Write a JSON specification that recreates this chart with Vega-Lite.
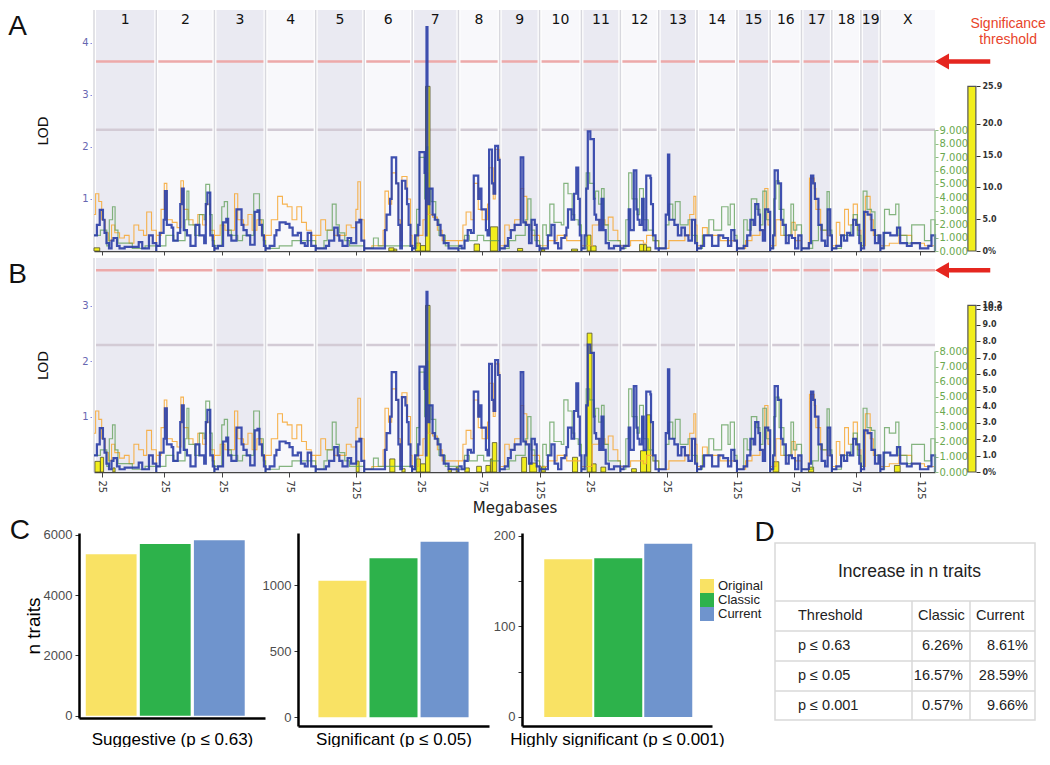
{
"$schema": "https://vega.github.io/schema/vega-lite/v6.json",
"background": "white",
"padding": {"left": 8, "top": 8, "right": 0, "bottom": 0},
"config": {"view": {"stroke": null}, "axis": {"grid": false}, "font": "Liberation Sans", "title": {"fontWeight": "normal"}},
"spacing": 0,
"datasets": {
"chroms": [
{"c":"1","s":0,"e":195,"m":97.5,"k":1},{"c":"2","s":195,"e":377,"m":286,"k":0},{"c":"3","s":377,"e":537,"m":457,"k":1},{"c":"4","s":537,"e":694,"m":615.5,"k":0},{"c":"5","s":694,"e":846,"m":770,"k":1},{"c":"6","s":846,"e":996,"m":921,"k":0},{"c":"7","s":996,"e":1141,"m":1068.5,"k":1},{"c":"8","s":1141,"e":1270,"m":1205.5,"k":0},{"c":"9","s":1270,"e":1395,"m":1332.5,"k":1},{"c":"10","s":1395,"e":1526,"m":1460.5,"k":0},{"c":"11","s":1526,"e":1648,"m":1587,"k":1},{"c":"12","s":1648,"e":1768,"m":1708,"k":0},{"c":"13","s":1768,"e":1888,"m":1828,"k":1},{"c":"14","s":1888,"e":2013,"m":1950.5,"k":0},{"c":"15","s":2013,"e":2117,"m":2065,"k":1},{"c":"16","s":2117,"e":2215,"m":2166,"k":0},{"c":"17","s":2215,"e":2310,"m":2262.5,"k":1},{"c":"18","s":2310,"e":2401,"m":2355.5,"k":0},{"c":"19","s":2401,"e":2462,"m":2431.5,"k":1},{"c":"X","s":2462,"e":2633,"m":2547.5,"k":0}
],
"lines": [
{"s":"o","c":"1","p":"AB","x":[0,5,15,24,35,45,55,65,80,95,110,125,140,155,165,180,195],"y":[0.7,1.1,0.95,0.6,0.35,0.2,0.5,0.35,0.25,0.3,0.15,0.5,0.4,0.3,0.75,0.4,0]},
{"s":"g","c":"1","p":"AB","x":[0,20,40,48,58,66,75,95,120,160,195],"y":[0.3,0.4,0.1,0.6,0.85,0.4,0.15,0.15,0.05,0.1,0]},
{"s":"b","c":"1","p":"AB","x":[0,9,18,28,33,39,47,55,61,72,80,96,140,151,162,172,184,195],"y":[0.3,0.5,0.79,0.6,0.35,0.15,0.05,0.2,0.25,0.1,0.05,0.08,0.17,0.05,0.05,0.3,0.15,0]},
{"s":"b","c":"2","p":"AB","x":[195,206,218,222,228,243,248,262,270,275,281,291,302,318,330,345,350,355,364,372,377],"y":[0.1,0.35,0.6,1.15,0.5,0.45,0.2,0.35,0.9,1.2,0.4,0.3,0.1,0.5,0.3,0.15,0.9,1.12,0.3,0.1,0]},
{"s":"o","c":"2","p":"AB","x":[195,210,220,228,245,260,272,280,295,310,325,340,352,364,377],"y":[0.3,0.8,1.3,0.6,0.55,0.45,1.35,0.8,0.6,0.5,0.7,0.5,0.9,0.4,0]},
{"s":"g","c":"2","p":"AB","x":[195,225,250,285,291,297,315,330,345,350,362,370,377],"y":[0.1,0.3,0.2,0.6,1.15,0.5,0.3,0.7,0.6,1.28,0.7,0.2,0]},
{"s":"b","c":"3","p":"AB","x":[377,388,404,414,420,430,446,462,468,478,489,503,512,518,526,532,537],"y":[0.05,0.1,0.55,0.62,0.3,0.2,0.8,0.5,0.4,0.3,0.12,0.75,0.78,0.5,0.3,0.1,0]},
{"s":"g","c":"3","p":"AB","x":[377,400,408,418,430,450,465,500,518,530,537],"y":[0.1,0.85,0.95,0.4,0.3,0.2,0.3,1.1,0.6,0.2,0]},
{"s":"o","c":"3","p":"AB","x":[377,395,410,440,450,468,482,495,510,525,537],"y":[0.3,0.5,0.4,1.1,0.6,0.5,0.7,0.4,0.6,0.3,0]},
{"s":"b","c":"4","p":"AB","x":[537,550,565,571,581,600,612,622,638,648,660,669,680,694],"y":[0.05,0.1,0.3,0.4,0.55,0.52,0.45,0.3,0.35,0.15,0.1,0.35,0.1,0]},
{"s":"o","c":"4","p":"AB","x":[537,555,575,590,605,620,635,650,665,680,694],"y":[0.3,0.6,1.05,0.9,0.85,0.6,0.85,0.55,0.4,0.3,0]},
{"s":"g","c":"4","p":"AB","x":[537,580,620,694],"y":[0.05,0.1,0.2,0]},
{"s":"b","c":"5","p":"AB","x":[694,705,726,736,752,763,768,778,794,805,821,831,837,846],"y":[0.05,0.05,0.1,0.2,0.45,0.3,0.2,0.1,0.25,0.15,0.55,0.6,0.2,0]},
{"s":"g","c":"5","p":"AB","x":[694,720,730,746,758,768,785,800,846],"y":[0.05,0.2,0.4,0.9,0.5,0.35,0.2,0.1,0]},
{"s":"o","c":"5","p":"AB","x":[694,710,725,750,790,805,820,826,834,846],"y":[0.3,0.6,0.4,0.3,0.5,0.45,0.8,1.33,0.6,0]},
{"s":"b","c":"6","p":"AB","x":[846,895,911,916,927,932,946,953,959,964,975,980,985,991,996],"y":[0.05,0.05,0.4,0.7,1.0,1.8,1.3,0.5,0.05,1.35,1.2,0.9,0.5,0.1,0]},
{"s":"o","c":"6","p":"AB","x":[846,870,905,911,922,932,946,953,959,964,980,991,996],"y":[0.05,0.1,0.4,1.15,0.9,1.5,1.3,0.6,0.2,1.43,1.0,0.3,0]},
{"s":"g","c":"6","p":"AB","x":[846,875,890,996],"y":[0.05,0.25,0.1,0]},
{"s":"b","c":"7","p":"A","x":[996,1005,1015,1019,1035,1039,1041,1044,1050,1060,1067,1076,1085,1095,1110,1141],"y":[0.05,0.3,0.5,1.9,1.5,0.3,4.3,0.9,1.2,0.7,0.6,0.5,0.3,0.15,0.05,0]},
{"s":"b","c":"7","p":"B","x":[996,1005,1015,1019,1035,1039,1041,1044,1050,1060,1067,1076,1085,1095,1110,1141],"y":[0.05,0.3,0.5,1.9,1.5,0.3,3.25,0.9,1.2,0.7,0.6,0.5,0.3,0.15,0.05,0]},
{"s":"g","c":"7","p":"AB","x":[996,1010,1019,1035,1041,1045,1055,1070,1080,1100,1141],"y":[0.05,0.8,1.8,1.0,2.0,1.2,0.95,0.6,0.3,0.1,0]},
{"s":"o","c":"7","p":"AB","x":[996,1015,1030,1041,1045,1060,1075,1090,1141],"y":[0.1,0.3,0.6,1.5,0.7,0.65,0.4,0.2,0]},
{"s":"b","c":"8","p":"AB","x":[1141,1151,1160,1170,1180,1189,1203,1208,1213,1227,1232,1237,1246,1251,1256,1265,1270],"y":[0.1,0.05,0.2,0.4,0.35,1.45,1.0,1.2,0.8,0.4,0.3,1.95,1.3,1.1,2.02,1.75,0]},
{"s":"o","c":"8","p":"AB","x":[1141,1155,1165,1180,1189,1203,1215,1232,1237,1250,1256,1268,1270],"y":[0.2,0.5,0.75,0.6,1.3,0.8,0.6,0.9,1.6,1.0,1.95,1.8,0]},
{"s":"g","c":"8","p":"AB","x":[1141,1160,1175,1200,1220,1270],"y":[0.05,0.3,0.2,0.3,0.2,0]},
{"s":"b","c":"9","p":"AB","x":[1270,1286,1296,1305,1317,1336,1344,1352,1362,1370,1380,1386,1395],"y":[0.05,0.1,0.25,0.4,0.5,1.8,0.55,0.5,0.15,0.6,0.5,0.1,0]},
{"s":"o","c":"9","p":"AB","x":[1270,1286,1300,1317,1336,1345,1355,1370,1395],"y":[0.1,0.5,0.4,0.6,1.2,1.05,0.5,0.3,0]},
{"s":"g","c":"9","p":"AB","x":[1270,1300,1320,1350,1358,1368,1380,1395],"y":[0.05,0.2,0.3,0.6,1.0,0.4,0.2,0]},
{"s":"b","c":"10","p":"AB","x":[1395,1405,1421,1432,1442,1453,1463,1474,1479,1484,1495,1503,1510,1516,1521,1526],"y":[0.05,0.05,0.3,0.5,0.15,0.05,0.25,0.3,0.45,0.8,0.6,1.1,1.6,1.0,0.3,0]},
{"s":"g","c":"10","p":"AB","x":[1395,1405,1416,1427,1440,1463,1471,1484,1497,1505,1516,1526],"y":[0.05,0.5,0.3,0.9,0.55,0.5,1.3,1.1,0.7,0.6,0.5,0]},
{"s":"o","c":"10","p":"AB","x":[1395,1420,1450,1480,1526],"y":[0.1,0.2,0.3,0.2,0]},
{"s":"b","c":"11","p":"AB","x":[1526,1536,1541,1546,1554,1565,1567,1572,1582,1589,1595,1602,1612,1628,1648],"y":[0.05,0.3,1.2,2.3,2.15,1.0,0.7,0.6,0.4,1.0,0.4,0.15,0.05,0.1,0]},
{"s":"g","c":"11","p":"AB","x":[1526,1541,1552,1565,1570,1580,1589,1597,1610,1648],"y":[0.05,1.5,1.3,1.0,1.15,0.9,1.2,0.5,0.2,0]},
{"s":"o","c":"11","p":"AB","x":[1526,1560,1580,1600,1610,1625,1640,1648],"y":[0.1,0.5,0.6,0.5,0.65,0.4,0.2,0]},
{"s":"b","c":"12","p":"AB","x":[1648,1658,1674,1679,1690,1698,1702,1708,1716,1721,1729,1742,1744,1750,1758,1768],"y":[0.05,0.1,0.8,0.4,1.55,0.8,0.6,0.5,1.0,0.4,1.45,1.4,0.9,0.3,0.05,0]},
{"s":"g","c":"12","p":"AB","x":[1648,1665,1674,1684,1700,1708,1720,1735,1750,1768],"y":[0.05,0.6,1.5,1.0,0.7,1.2,0.6,0.4,0.2,0]},
{"s":"o","c":"12","p":"AB","x":[1648,1680,1720,1730,1750,1768],"y":[0.1,0.2,0.15,0.3,0.2,0]},
{"s":"b","c":"13","p":"AB","x":[1768,1779,1790,1797,1801,1806,1817,1828,1839,1850,1861,1872,1882,1888],"y":[0.05,0.05,0.7,1.85,0.6,0.6,0.5,0.3,0.45,0.3,0.2,0.6,0.15,0]},
{"s":"g","c":"13","p":"AB","x":[1768,1790,1800,1812,1820,1835,1860,1872,1888],"y":[0.05,0.5,0.9,0.6,0.95,0.5,0.6,0.3,0]},
{"s":"o","c":"13","p":"AB","x":[1768,1800,1850,1865,1878,1884,1888],"y":[0.05,0.2,0.3,0.7,1.05,0.5,0]},
{"s":"b","c":"14","p":"AB","x":[1888,1900,1910,1925,1935,1955,1970,1985,1995,2005,2013],"y":[0.05,0.1,0.3,0.3,0.1,0.3,0.25,0.1,0.4,0.2,0]},
{"s":"g","c":"14","p":"AB","x":[1888,1905,1925,1940,1965,1985,1992,2005,2013],"y":[0.05,0.3,0.6,0.4,0.85,0.5,0.9,0.3,0]},
{"s":"o","c":"14","p":"AB","x":[1888,1905,1920,1940,1960,2013],"y":[0.1,0.45,0.3,0.3,0.2,0]},
{"s":"b","c":"15","p":"AB","x":[2013,2024,2034,2045,2055,2065,2070,2080,2085,2094,2101,2111,2117],"y":[0.05,0.05,0.1,0.3,0.6,0.5,0.9,0.7,0.4,0.2,0.8,0.75,0]},
{"s":"g","c":"15","p":"AB","x":[2013,2034,2045,2058,2075,2085,2094,2105,2117],"y":[0.05,0.6,0.4,1.0,0.8,0.5,1.15,0.6,0]},
{"s":"o","c":"15","p":"AB","x":[2013,2040,2060,2085,2100,2110,2117],"y":[0.05,0.2,0.3,0.4,1.2,0.5,0]},
{"s":"b","c":"16","p":"AB","x":[2117,2126,2131,2141,2151,2156,2166,2175,2185,2195,2205,2215],"y":[0.05,0.3,1.55,1.3,0.6,0.5,0.15,0.3,0.25,0.05,0.3,0]},
{"s":"g","c":"16","p":"AB","x":[2117,2128,2135,2145,2160,2182,2190,2200,2215],"y":[0.05,1.0,1.35,0.8,0.3,0.9,0.4,0.5,0]},
{"s":"o","c":"16","p":"AB","x":[2117,2135,2150,2165,2185,2195,2215],"y":[0.1,0.6,0.3,0.3,0.55,0.2,0]},
{"s":"b","c":"17","p":"AB","x":[2215,2226,2238,2245,2252,2257,2268,2278,2289,2297,2305,2310],"y":[0.05,0.05,0.15,1.45,1.3,1.0,0.5,0.2,0.1,0.8,0.3,0]},
{"s":"o","c":"17","p":"AB","x":[2215,2240,2255,2260,2275,2295,2310],"y":[0.05,1.4,1.2,0.8,0.4,0.3,0]},
{"s":"g","c":"17","p":"AB","x":[2215,2250,2268,2280,2295,2302,2310],"y":[0.05,0.2,0.5,0.4,1.14,0.4,0]},
{"s":"b","c":"18","p":"AB","x":[2310,2324,2339,2348,2358,2367,2377,2386,2396,2401],"y":[0.05,0.1,0.3,0.2,0.35,0.3,0.6,0.5,0.15,0]},
{"s":"o","c":"18","p":"AB","x":[2310,2324,2335,2350,2362,2377,2390,2401],"y":[0.1,0.55,0.3,0.8,0.5,0.9,0.4,0]},
{"s":"g","c":"18","p":"AB","x":[2310,2340,2370,2377,2390,2401],"y":[0.05,0.3,0.5,0.7,0.3,0]},
{"s":"b","c":"19","p":"AB","x":[2401,2411,2422,2434,2445,2456,2462],"y":[0.05,0.75,0.7,0.4,0.15,0.3,0]},
{"s":"g","c":"19","p":"AB","x":[2401,2408,2420,2434,2445,2462],"y":[0.1,1.15,0.8,0.75,0.3,0]},
{"s":"o","c":"19","p":"AB","x":[2401,2415,2430,2440,2462],"y":[0.1,1.05,0.6,0.3,0]},
{"s":"b","c":"X","p":"AB","x":[2462,2472,2493,2498,2514,2524,2529,2545,2560,2586,2597,2612,2622,2633],"y":[0.05,0.35,0.3,0.3,0.45,0.15,0.15,0.1,0.15,0.05,0.05,0.1,0.3,0]},
{"s":"g","c":"X","p":"AB","x":[2462,2475,2490,2510,2520,2545,2560,2586,2600,2620,2633],"y":[0.05,0.8,0.7,0.9,0.3,0.15,0.5,0.5,0.2,0.6,0]},
{"s":"o","c":"X","p":"AB","x":[2462,2490,2520,2560,2600,2633],"y":[0.1,0.15,0.3,0.15,0.1,0]}
],
"ybarsA": [
{"x0":0,"x1":18,"v":0.5},{"x0":923,"x1":939,"v":0.5},{"x0":939,"x1":948,"v":0.3},{"x0":1006,"x1":1022,"v":1.25},{"x0":1022,"x1":1038,"v":0.85},{"x0":1038,"x1":1052,"v":25.9},{"x0":1190,"x1":1207,"v":1.1},{"x0":1241,"x1":1264,"v":3.8},{"x0":1326,"x1":1342,"v":0.4},{"x0":1401,"x1":1411,"v":0.3},{"x0":1495,"x1":1514,"v":0.3},{"x0":1544,"x1":1556,"v":2.5},{"x0":1556,"x1":1572,"v":0.8},{"x0":1708,"x1":1721,"v":1.05},{"x0":1721,"x1":1730,"v":1.0},{"x0":1730,"x1":1743,"v":0.6}
],
"ybarsB": [
{"x0":3,"x1":20,"v":0.65},{"x0":20,"x1":30,"v":0.9},{"x0":59,"x1":66,"v":0.25},{"x0":821,"x1":830,"v":0.67},{"x0":926,"x1":942,"v":0.8},{"x0":964,"x1":974,"v":0.2},{"x0":1009,"x1":1022,"v":0.8},{"x0":1022,"x1":1038,"v":0.5},{"x0":1038,"x1":1052,"v":10.2},{"x0":1109,"x1":1119,"v":0.2},{"x0":1134,"x1":1141,"v":0.3},{"x0":1161,"x1":1175,"v":0.25},{"x0":1198,"x1":1213,"v":0.35},{"x0":1227,"x1":1241,"v":0.4},{"x0":1241,"x1":1247,"v":0.8},{"x0":1247,"x1":1261,"v":1.8},{"x0":1339,"x1":1354,"v":0.9},{"x0":1364,"x1":1386,"v":0.55},{"x0":1401,"x1":1413,"v":0.35},{"x0":1498,"x1":1514,"v":0.9},{"x0":1544,"x1":1559,"v":8.5},{"x0":1559,"x1":1572,"v":0.5},{"x0":1587,"x1":1602,"v":0.3},{"x0":1683,"x1":1698,"v":0.2},{"x0":1711,"x1":1730,"v":1.3},{"x0":1730,"x1":1743,"v":3.5},{"x0":2126,"x1":2144,"v":0.63},{"x0":2237,"x1":2253,"v":0.3},{"x0":2506,"x1":2524,"v":0.4}
],
"bars": [
{"g":"S1","m":"Original","n":5355},{"g":"S1","m":"Classic","n":5690},{"g":"S1","m":"Current","n":5816},
{"g":"S2","m":"Original","n":1034},{"g":"S2","m":"Classic","n":1205},{"g":"S2","m":"Current","n":1330},
{"g":"S3","m":"Original","n":174},{"g":"S3","m":"Classic","n":175},{"g":"S3","m":"Current","n":191}
],
"tab": [
{"r":0,"c":0,"t":"Increase in n traits","k":"t"},
{"r":1,"c":0,"t":"Threshold","k":"l"},
{"r":1,"c":1,"t":"Classic","k":"h"},
{"r":1,"c":2,"t":"Current","k":"h"},
{"r":2,"c":0,"t":"p ≤ 0.63","k":"l"},
{"r":3,"c":0,"t":"p ≤ 0.05","k":"l"},
{"r":4,"c":0,"t":"p ≤ 0.001","k":"l"},
{"r":2,"c":2,"t":"6.26%","k":"v"},{"r":2,"c":3,"t":"8.61%","k":"v"},
{"r":3,"c":2,"t":"16.57%","k":"v"},{"r":3,"c":3,"t":"28.59%","k":"v"},
{"r":4,"c":2,"t":"0.57%","k":"v"},{"r":4,"c":3,"t":"9.66%","k":"v"}
]
},
"vconcat": [
{
"width": 856, "height": 241,
"title": {"text": "A", "orient": "left", "anchor": "end", "angle": 0, "align": "right", "baseline": "top", "dy": 5, "offset": -9, "fontSize": 28, "fontWeight": "normal", "font": "Liberation Sans", "color": "#111"},
"layer": [
{"data": {"name": "chroms"}, "layer": [
 {"mark": {"type": "rect"}, "encoding": {
   "x": {"field": "s", "type": "quantitative", "scale": {"domain": [0, 2633], "range": [15, 856], "nice": false, "zero": false},
     "axis": {"values": [25,75,125,175,220,270,320,370,402,452,502,562,612,662,719,769,819,871,921,971,1021,1071,1121,1166,1216,1266,1295,1345,1395,1420,1470,1520,1551,1601,1673,1723,1793,1843,1913,1963,2013,2038,2088,2142,2192,2240,2290,2335,2385,2426,2487,2537,2587], "labels": false, "ticks": true, "tickSize": 4, "tickColor": "#444", "domainColor": "#444", "domainWidth": 1.5, "title": null, "grid": false}},
   "x2": {"field": "e"},
   "fill": {"condition": {"test": "datum.k == 1", "value": "#eaeaf2"}, "value": "#f8f8fb"}}},
 {"mark": {"type": "rule", "strokeWidth": 2.5, "color": "#eda9a9"}, "encoding": {
   "x": {"field": "s", "type": "quantitative", "scale": {"domain": [0, 2633], "range": [15, 856], "nice": false}}, "x2": {"field": "e"},
   "y": {"datum": 3.64, "type": "quantitative", "scale": {"domain": [0, 4.63], "nice": false, "zero": false},
     "axis": {"title": "LOD", "orient": "left", "offset": -15, "values": [1,2,3,4], "format": "d", "domainColor": "#8b8bdc", "domainWidth": 1.5, "tickColor": "#8b8bdc", "tickSize": 4, "labelColor": "#6767b0", "labelFontSize": 10, "labelFont": "DejaVu Sans", "titleFont": "DejaVu Sans", "titleFontSize": 14, "titleFontWeight": "normal", "titleColor": "#111", "titlePadding": 31, "grid": false}}}},
 {"mark": {"type": "rule", "strokeWidth": 2.5, "color": "#d3cbd5"}, "encoding": {
   "x": {"field": "s", "type": "quantitative"}, "x2": {"field": "e"},
   "y": {"datum": 2.33, "type": "quantitative"}}},
 {"mark": {"type": "rule", "strokeWidth": 4, "color": "#ffffff"}, "encoding": {"x": {"field": "s", "type": "quantitative"}}},
 {"mark": {"type": "rule", "strokeWidth": 1.5, "color": "#d8d8de"}, "encoding": {"x": {"field": "s", "type": "quantitative"}}},
 {"mark": {"type": "text", "fontSize": 14, "font": "DejaVu Sans", "color": "#111", "baseline": "middle"}, "encoding": {
   "x": {"field": "m", "type": "quantitative"}, "y": {"datum": 4.44, "type": "quantitative"}, "text": {"field": "c"}}}
]},
{"layer": [
 {"data": {"name": "ybarsA"}, "mark": {"type": "rect", "fill": "#f2ee1c", "stroke": "#50502a", "strokeWidth": 0.8}, "encoding": {
   "x": {"field": "x0", "type": "quantitative", "scale": {"domain": [0, 2633], "range": [15, 856], "nice": false}}, "x2": {"field": "x1"},
   "y": {"field": "v", "type": "quantitative", "scale": {"domain": [0, 37.9], "nice": false, "zero": false},
     "axis": {"orient": "right", "offset": 41, "values": [0,5,10,15,20,25.9], "labelExpr": "datum.value == 0 ? '0%' : format(datum.value, '.1f')", "domain": false, "tickColor": "#333", "tickSize": 4, "labelColor": "#333", "labelFontSize": 8, "labelFont": "DejaVu Sans", "labelFontWeight": "bold", "title": null, "grid": false, "labelOverlap": false, "labelFlush": false}},
   "y2": {"datum": 0}}},
 {"data": {"values": [{}]}, "mark": {"type": "rect", "fill": "#f2ee1c", "stroke": "#555555", "strokeWidth": 1.2, "clip": false}, "encoding": {
   "x": {"datum": 2736, "type": "quantitative"}, "x2": {"datum": 2761},
   "y": {"datum": 25.9, "type": "quantitative", "axis": {"orient": "right", "offset": 41, "values": [0,5,10,15,20,25.9], "labelExpr": "datum.value == 0 ? '0%' : format(datum.value, '.1f')", "domain": false, "tickColor": "#333", "tickSize": 4, "labelColor": "#333", "labelFontSize": 8, "labelFont": "DejaVu Sans", "labelFontWeight": "bold", "title": null, "grid": false, "labelOverlap": false, "labelFlush": false}}, "y2": {"datum": 0}}}
]},
{"layer": [
 {"data": {"name": "lines"}, "transform": [{"filter": "indexof(datum.p, 'A') >= 0"}, {"filter": "datum.s == 'o'"}, {"flatten": ["x", "y"]}],
  "mark": {"type": "line", "interpolate": "step-after", "color": "#f6ab3c", "strokeWidth": 1.1, "opacity": 0.9},
  "encoding": {"x": {"field": "x", "type": "quantitative", "scale": {"domain": [0, 2633], "range": [15, 856], "nice": false}},
   "y": {"field": "y", "type": "quantitative", "scale": {"domain": [0, 4.63], "nice": false, "zero": false}, "axis": null},
   "detail": {"field": "c"}}},
 {"data": {"name": "lines"}, "transform": [{"filter": "indexof(datum.p, 'A') >= 0"}, {"filter": "datum.s == 'g'"}, {"flatten": ["x", "y"]}],
  "mark": {"type": "line", "interpolate": "step-after", "color": "#5e9e55", "strokeWidth": 1.2, "opacity": 0.75},
  "encoding": {"x": {"field": "x", "type": "quantitative"}, "y": {"field": "y", "type": "quantitative"}, "detail": {"field": "c"}}},
 {"data": {"name": "lines"}, "transform": [{"filter": "indexof(datum.p, 'A') >= 0"}, {"filter": "datum.s == 'b'"}, {"flatten": ["x", "y"]}],
  "mark": {"type": "line", "interpolate": "step-after", "color": "#2a3da6", "strokeWidth": 2.2, "opacity": 0.9},
  "encoding": {"x": {"field": "x", "type": "quantitative"}, "y": {"field": "y", "type": "quantitative"}, "detail": {"field": "c"}}},
 {"data": {"values": [{}]}, "mark": {"type": "rule", "color": "#e5261f", "strokeWidth": 4.5, "clip": false}, "encoding": {
   "x": {"datum": 2662, "type": "quantitative"}, "x2": {"datum": 2806}, "y": {"datum": 3.64, "type": "quantitative"}}},
 {"data": {"values": [{}]}, "mark": {"type": "point", "shape": "triangle-left", "filled": true, "size": 260, "color": "#e5261f", "opacity": 1, "clip": false}, "encoding": {
   "x": {"datum": 2655, "type": "quantitative"}, "y": {"datum": 3.64, "type": "quantitative"}}},
 {"data": {"values": [{}]}, "mark": {"type": "text", "lineBreak": "\n", "align": "center", "baseline": "top", "fontSize": 14, "font": "Liberation Sans", "color": "#e8442a", "clip": false}, "encoding": {
   "x": {"datum": 2862, "type": "quantitative"}, "y": {"datum": 4.5, "type": "quantitative"}, "text": {"value": "Significance\nthreshold"}}}
]},
{"data": {"values": [{}]}, "mark": {"type": "rule", "color": "#8fbf86", "strokeWidth": 1.2}, "encoding": {
  "x": {"datum": 2633, "type": "quantitative"},
  "y": {"datum": 0, "type": "quantitative", "scale": {"domain": [0, 17.98], "nice": false, "zero": false},
    "axis": {"orient": "right", "offset": 0, "values": [0,1,2,3,4,5,6,7,8,9], "format": ".3f", "domain": false, "tickColor": "#8fbf86", "tickSize": 3, "labelColor": "#6aa84f", "labelFontSize": 10, "labelFont": "DejaVu Sans", "labelPadding": 1, "title": null, "grid": false, "labelOverlap": false, "labelFlush": false}},
  "y2": {"datum": 9}}}
],
"resolve": {"scale": {"y": "independent"}, "axis": {"y": "independent"}}
},
{
"width": 856, "height": 214,
"title": {"text": "B", "orient": "left", "anchor": "end", "angle": 0, "align": "right", "baseline": "top", "dy": 5, "offset": -9, "fontSize": 28, "fontWeight": "normal", "font": "Liberation Sans", "color": "#111"},
"layer": [
{"data": {"name": "chroms"}, "layer": [
 {"mark": {"type": "rect"}, "encoding": {
   "x": {"field": "s", "type": "quantitative", "scale": {"domain": [0, 2633], "range": [15, 856], "nice": false, "zero": false},
     "axis": {"values": [25,75,125,175,220,270,320,370,402,452,502,562,612,662,719,769,819,871,921,971,1021,1071,1121,1166,1216,1266,1295,1345,1395,1420,1470,1520,1551,1601,1673,1723,1793,1843,1913,1963,2013,2038,2088,2142,2192,2240,2290,2335,2385,2426,2487,2537,2587],
       "labelExpr": "datum.value - (datum.value > 2462 ? 2462 : datum.value > 2401 ? 2401 : datum.value > 2310 ? 2310 : datum.value > 2215 ? 2215 : datum.value > 2117 ? 2117 : datum.value > 2013 ? 2013 : datum.value > 1888 ? 1888 : datum.value > 1768 ? 1768 : datum.value > 1648 ? 1648 : datum.value > 1526 ? 1526 : datum.value > 1395 ? 1395 : datum.value > 1270 ? 1270 : datum.value > 1141 ? 1141 : datum.value > 996 ? 996 : datum.value > 846 ? 846 : datum.value > 694 ? 694 : datum.value > 537 ? 537 : datum.value > 377 ? 377 : datum.value > 195 ? 195 : 0)",
       "labelAngle": 90, "labelFontSize": 10, "labelFont": "DejaVu Sans", "labelColor": "#333", "labelOverlap": false, "labelFlush": false, "labelPadding": 3,
       "tickSize": 5, "tickColor": "#444", "domainColor": "#444", "domainWidth": 1.5,
       "title": "Megabases", "titleFont": "DejaVu Sans", "titleFontSize": 15, "titleFontWeight": "normal", "titleColor": "#222", "titlePadding": 1, "grid": false}},
   "x2": {"field": "e"},
   "fill": {"condition": {"test": "datum.k == 1", "value": "#eaeaf2"}, "value": "#f8f8fb"}}},
 {"mark": {"type": "rule", "strokeWidth": 2.5, "color": "#eda9a9"}, "encoding": {
   "x": {"field": "s", "type": "quantitative", "scale": {"domain": [0, 2633], "range": [15, 856], "nice": false}}, "x2": {"field": "e"},
   "y": {"datum": 3.64, "type": "quantitative", "scale": {"domain": [0, 3.86], "nice": false, "zero": false},
     "axis": {"title": "LOD", "orient": "left", "offset": -15, "values": [1,2,3], "format": "d", "domainColor": "#8b8bdc", "domainWidth": 1.5, "tickColor": "#8b8bdc", "tickSize": 4, "labelColor": "#6767b0", "labelFontSize": 10, "labelFont": "DejaVu Sans", "titleFont": "DejaVu Sans", "titleFontSize": 14, "titleFontWeight": "normal", "titleColor": "#111", "titlePadding": 31, "grid": false}}}},
 {"mark": {"type": "rule", "strokeWidth": 2.5, "color": "#d3cbd5"}, "encoding": {
   "x": {"field": "s", "type": "quantitative"}, "x2": {"field": "e"},
   "y": {"datum": 2.29, "type": "quantitative"}}},
 {"mark": {"type": "rule", "strokeWidth": 4, "color": "#ffffff"}, "encoding": {"x": {"field": "s", "type": "quantitative"}}},
 {"mark": {"type": "rule", "strokeWidth": 1.5, "color": "#d8d8de"}, "encoding": {"x": {"field": "s", "type": "quantitative"}}}
]},
{"layer": [
 {"data": {"name": "ybarsB"}, "mark": {"type": "rect", "fill": "#f2ee1c", "stroke": "#50502a", "strokeWidth": 0.8}, "encoding": {
   "x": {"field": "x0", "type": "quantitative", "scale": {"domain": [0, 2633], "range": [15, 856], "nice": false}}, "x2": {"field": "x1"},
   "y": {"field": "v", "type": "quantitative", "scale": {"domain": [0, 13.1], "nice": false, "zero": false},
     "axis": {"orient": "right", "offset": 41, "values": [0,1,2,3,4,5,6,7,8,9,10,10.2], "labelExpr": "datum.value == 0 ? '0%' : format(datum.value, '.1f')", "domain": false, "tickColor": "#333", "tickSize": 4, "labelColor": "#333", "labelFontSize": 8, "labelFont": "DejaVu Sans", "labelFontWeight": "bold", "title": null, "grid": false, "labelOverlap": false, "labelFlush": false}},
   "y2": {"datum": 0}}},
 {"data": {"values": [{}]}, "mark": {"type": "rect", "fill": "#f2ee1c", "stroke": "#555555", "strokeWidth": 1.2, "clip": false}, "encoding": {
   "x": {"datum": 2736, "type": "quantitative"}, "x2": {"datum": 2761},
   "y": {"datum": 10.2, "type": "quantitative", "axis": {"orient": "right", "offset": 41, "values": [0,1,2,3,4,5,6,7,8,9,10,10.2], "labelExpr": "datum.value == 0 ? '0%' : format(datum.value, '.1f')", "domain": false, "tickColor": "#333", "tickSize": 4, "labelColor": "#333", "labelFontSize": 8, "labelFont": "DejaVu Sans", "labelFontWeight": "bold", "title": null, "grid": false, "labelOverlap": false, "labelFlush": false}}, "y2": {"datum": 0}}}
]},
{"layer": [
 {"data": {"name": "lines"}, "transform": [{"filter": "indexof(datum.p, 'B') >= 0"}, {"filter": "datum.s == 'o'"}, {"flatten": ["x", "y"]}],
  "mark": {"type": "line", "interpolate": "step-after", "color": "#f6ab3c", "strokeWidth": 1.1, "opacity": 0.9},
  "encoding": {"x": {"field": "x", "type": "quantitative", "scale": {"domain": [0, 2633], "range": [15, 856], "nice": false}},
   "y": {"field": "y", "type": "quantitative", "scale": {"domain": [0, 3.86], "nice": false, "zero": false}, "axis": null},
   "detail": {"field": "c"}}},
 {"data": {"name": "lines"}, "transform": [{"filter": "indexof(datum.p, 'B') >= 0"}, {"filter": "datum.s == 'g'"}, {"flatten": ["x", "y"]}],
  "mark": {"type": "line", "interpolate": "step-after", "color": "#5e9e55", "strokeWidth": 1.2, "opacity": 0.75},
  "encoding": {"x": {"field": "x", "type": "quantitative"}, "y": {"field": "y", "type": "quantitative"}, "detail": {"field": "c"}}},
 {"data": {"name": "lines"}, "transform": [{"filter": "indexof(datum.p, 'B') >= 0"}, {"filter": "datum.s == 'b'"}, {"flatten": ["x", "y"]}],
  "mark": {"type": "line", "interpolate": "step-after", "color": "#2a3da6", "strokeWidth": 2.2, "opacity": 0.9},
  "encoding": {"x": {"field": "x", "type": "quantitative"}, "y": {"field": "y", "type": "quantitative"}, "detail": {"field": "c"}}},
 {"data": {"values": [{}]}, "mark": {"type": "rule", "color": "#e5261f", "strokeWidth": 4.5, "clip": false}, "encoding": {
   "x": {"datum": 2662, "type": "quantitative"}, "x2": {"datum": 2806}, "y": {"datum": 3.64, "type": "quantitative"}}},
 {"data": {"values": [{}]}, "mark": {"type": "point", "shape": "triangle-left", "filled": true, "size": 260, "color": "#e5261f", "opacity": 1, "clip": false}, "encoding": {
   "x": {"datum": 2655, "type": "quantitative"}, "y": {"datum": 3.64, "type": "quantitative"}}}
]},
{"data": {"values": [{}]}, "mark": {"type": "rule", "color": "#8fbf86", "strokeWidth": 1.2}, "encoding": {
  "x": {"datum": 2633, "type": "quantitative"},
  "y": {"datum": 0, "type": "quantitative", "scale": {"domain": [0, 14.2], "nice": false, "zero": false},
    "axis": {"orient": "right", "offset": 0, "values": [0,1,2,3,4,5,6,7,8], "format": ".3f", "domain": false, "tickColor": "#8fbf86", "tickSize": 3, "labelColor": "#6aa84f", "labelFontSize": 10, "labelFont": "DejaVu Sans", "labelPadding": 1, "title": null, "grid": false, "labelOverlap": false, "labelFlush": false}},
  "y2": {"datum": 8}}}
],
"resolve": {"scale": {"y": "independent"}, "axis": {"y": "independent"}}
},
{
"hconcat": [
{
 "width": 186, "height": 185,
 "title": {"text": "C", "orient": "left", "anchor": "end", "angle": 0, "align": "right", "baseline": "top", "dy": -12, "offset": -26, "fontSize": 28, "fontWeight": "normal", "font": "Liberation Sans", "color": "#111"},
 "data": {"name": "bars"},
 "transform": [{"filter": "datum.g == 'S1'"}],
 "mark": {"type": "bar"},
 "encoding": {
  "x": {"field": "m", "type": "nominal", "sort": ["Original", "Classic", "Current"], "scale": {"paddingInner": 0.06, "paddingOuter": 0.25, "align": 0.25},
   "axis": {"title": "Suggestive (p ≤ 0.63)", "labels": false, "ticks": false, "domainColor": "#000", "domainWidth": 2.5, "titleFont": "Liberation Sans", "titleFontSize": 17, "titleFontWeight": "normal", "titleColor": "#000", "titlePadding": 13}},
  "y": {"field": "n", "type": "quantitative", "scale": {"domain": [-77, 6057], "nice": false, "zero": false},
   "axis": {"values": [0, 2000, 4000, 6000], "format": "d", "title": "n traits", "titleFont": "Liberation Sans", "titleFontSize": 19, "titleFontWeight": "normal", "titleColor": "#000", "titlePadding": 0, "domainColor": "#000", "domainWidth": 2.5, "tickColor": "#333", "tickSize": 4, "labelColor": "#4d4d4d", "labelFontSize": 13, "labelFont": "Liberation Sans", "labelPadding": 3}},
  "y2": {"datum": 0},
  "color": {"field": "m", "type": "nominal", "scale": {"domain": ["Original", "Classic", "Current"], "range": ["#f9e264", "#2db24b", "#6f94cd"]}, "legend": null}
 }
},
{
 "width": 191, "height": 193,
 "data": {"name": "bars"},
 "transform": [{"filter": "datum.g == 'S2'"}],
 "mark": {"type": "bar"},
 "encoding": {
  "x": {"field": "m", "type": "nominal", "sort": ["Original", "Classic", "Current"], "scale": {"paddingInner": 0.06, "paddingOuter": 0.4, "align": 0.5},
   "axis": {"title": "Significant (p ≤ 0.05)", "labels": false, "ticks": false, "domainColor": "#000", "domainWidth": 2.5, "titleFont": "Liberation Sans", "titleFontSize": 17, "titleFontWeight": "normal", "titleColor": "#000", "titlePadding": 5}},
  "y": {"field": "n", "type": "quantitative", "scale": {"domain": [-66, 1396], "nice": false, "zero": false},
   "axis": {"values": [0, 500, 1000], "format": "d", "title": null, "domainColor": "#000", "domainWidth": 2.5, "tickColor": "#333", "tickSize": 4, "labelColor": "#4d4d4d", "labelFontSize": 13, "labelFont": "Liberation Sans", "labelPadding": 3}},
  "y2": {"datum": 0},
  "color": {"field": "m", "type": "nominal", "scale": {"domain": ["Original", "Classic", "Current"], "range": ["#f9e264", "#2db24b", "#6f94cd"]}, "legend": null}
 }
},
{
 "width": 190, "height": 193,
 "data": {"name": "bars"},
 "transform": [{"filter": "datum.g == 'S3'"}],
 "mark": {"type": "bar"},
 "encoding": {
  "x": {"field": "m", "type": "nominal", "sort": ["Original", "Classic", "Current"], "scale": {"paddingInner": 0.04, "paddingOuter": 0.42, "align": 0.53},
   "axis": {"title": "Highly significant (p ≤ 0.001)", "labels": false, "ticks": false, "domainColor": "#000", "domainWidth": 2.5, "titleFont": "Liberation Sans", "titleFontSize": 17, "titleFontWeight": "normal", "titleColor": "#000", "titlePadding": 5}},
  "y": {"field": "n", "type": "quantitative", "scale": {"domain": [-10, 203], "nice": false, "zero": false},
   "axis": {"values": [0, 50, 100, 150, 200], "labelExpr": "datum.value % 100 == 0 ? datum.label : ''", "title": null, "domainColor": "#000", "domainWidth": 2.5, "tickColor": "#333", "tickSize": 4, "labelColor": "#4d4d4d", "labelFontSize": 13, "labelFont": "Liberation Sans", "labelPadding": 3}},
  "y2": {"datum": 0},
  "color": {"field": "m", "type": "nominal", "scale": {"domain": ["Original", "Classic", "Current"], "range": ["#f9e264", "#2db24b", "#6f94cd"]},
   "legend": {"orient": "none", "legendX": 178, "legendY": 46, "title": null, "symbolType": "square", "symbolSize": 196, "symbolStrokeWidth": 0, "symbolOpacity": 1, "labelFontSize": 13, "labelFont": "Liberation Sans", "labelColor": "#222", "rowPadding": 0, "labelOffset": 4}}
 }
},
{
 "width": 290, "height": 187,
 "title": {"text": "D", "orient": "left", "anchor": "end", "angle": 0, "align": "right", "baseline": "top", "dy": -14, "offset": -50, "frame": "group", "fontSize": 28, "fontWeight": "normal", "font": "Liberation Sans", "color": "#111"},
 "layer": [
  {"data": {"values": [{}]}, "mark": {"type": "rect", "fill": "#ffffff", "stroke": "#d9d9d9", "strokeWidth": 1.5}, "encoding": {
    "x": {"datum": 0, "type": "quantitative", "scale": {"domain": [0, 1, 2, 3], "range": [30, 167, 225, 290], "nice": false, "zero": false}, "axis": null}, "x2": {"datum": 3},
    "y": {"datum": 0, "type": "quantitative", "scale": {"domain": [0, 1, 2, 3, 4, 5], "range": [10, 68, 98, 128, 158, 187], "nice": false, "zero": false}, "axis": null}, "y2": {"datum": 5}}},
  {"data": {"values": [{"r": 1}, {"r": 2}, {"r": 3}, {"r": 4}]}, "mark": {"type": "rule", "color": "#d9d9d9", "strokeWidth": 1.5}, "encoding": {
    "x": {"datum": 0, "type": "quantitative"}, "x2": {"datum": 3}, "y": {"field": "r", "type": "quantitative"}}},
  {"data": {"values": [{"c": 1}, {"c": 2}]}, "mark": {"type": "rule", "color": "#d9d9d9", "strokeWidth": 1.5}, "encoding": {
    "x": {"field": "c", "type": "quantitative"}, "y": {"datum": 1, "type": "quantitative"}, "y2": {"datum": 5}}},
  {"data": {"name": "tab"}, "transform": [{"filter": "datum.k == 't'"}], "mark": {"type": "text", "align": "left", "baseline": "middle", "dx": 63, "dy": 29, "fontSize": 17.5, "font": "Liberation Sans", "color": "#222"}, "encoding": {
    "x": {"field": "c", "type": "quantitative"}, "y": {"field": "r", "type": "quantitative"}, "text": {"field": "t"}}},
  {"data": {"name": "tab"}, "transform": [{"filter": "datum.k == 'l'"}], "mark": {"type": "text", "align": "left", "baseline": "middle", "dx": 23, "dy": 15, "fontSize": 14.5, "font": "Liberation Sans", "color": "#222"}, "encoding": {
    "x": {"field": "c", "type": "quantitative"}, "y": {"field": "r", "type": "quantitative"}, "text": {"field": "t"}}},
  {"data": {"name": "tab"}, "transform": [{"filter": "datum.k == 'h'"}], "mark": {"type": "text", "align": "left", "baseline": "middle", "dx": 6, "dy": 15, "fontSize": 14.5, "font": "Liberation Sans", "color": "#222"}, "encoding": {
    "x": {"field": "c", "type": "quantitative"}, "y": {"field": "r", "type": "quantitative"}, "text": {"field": "t"}}},
  {"data": {"name": "tab"}, "transform": [{"filter": "datum.k == 'v'"}], "mark": {"type": "text", "align": "right", "baseline": "middle", "dx": -7, "dy": 15, "fontSize": 14.5, "font": "Liberation Sans", "color": "#222"}, "encoding": {
    "x": {"field": "c", "type": "quantitative"}, "y": {"field": "r", "type": "quantitative"}, "text": {"field": "t"}}}
 ]
}
],
"spacing": 33,
"bounds": "flush",
"resolve": {"scale": {"color": "independent"}}
}
]
}
